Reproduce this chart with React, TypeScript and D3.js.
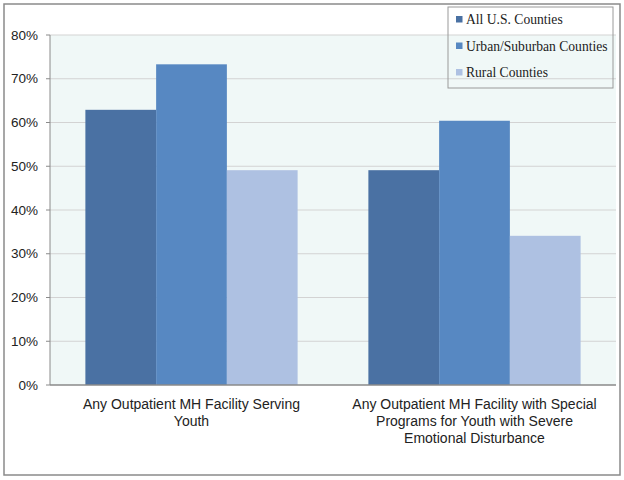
import React from "react";
import * as d3 from "d3";

const categories: string[][] = [
  ["Any Outpatient MH Facility Serving", "Youth"],
  ["Any Outpatient MH Facility with Special", "Programs for Youth with Severe", "Emotional Disturbance"],
];
const seriesNames = ["All U.S. Counties", "Urban/Suburban Counties", "Rural Counties"];
const allUS = [62.9, 49.1];
const urbanSuburban = [73.3, 60.4];
const rural = [49.1, 34.1];
const yTicks = [0, 10, 20, 30, 40, 50, 60, 70, 80];
const colors = ["#4A71A3", "#5788C2", "#AEC1E2"];

const W = 624;
const H = 480;
const plot = { left: 50, right: 616, top: 35, bottom: 385 };

export default function App() {
  const series = [allUS, urbanSuburban, rural];
  const x0 = d3
    .scaleBand<number>()
    .domain(categories.map((_, i) => i))
    .range([plot.left, plot.right])
    .paddingInner(0.25)
    .paddingOuter(0.125);
  const x1 = d3
    .scaleBand<number>()
    .domain(series.map((_, i) => i))
    .range([0, x0.bandwidth()]);
  const y = d3.scaleLinear().domain([0, 80]).range([plot.bottom, plot.top]);

  return (
    <svg
      width={W}
      height={H}
      style={{ position: "absolute", left: 0, top: 0, background: "#fff" }}
    >
      <rect x={4} y={4} width={616} height={471} fill="#fff" stroke="#8a8a8a" strokeWidth={1.5} />
      <rect
        x={plot.left}
        y={plot.top}
        width={plot.right - plot.left}
        height={plot.bottom - plot.top}
        fill="#F0F8F7"
      />
      {yTicks.map((t) => (
        <g key={t}>
          {t > 0 && (
            <line x1={plot.left} x2={plot.right} y1={y(t)} y2={y(t)} stroke="#D3D3D3" strokeWidth={1.2} />
          )}
          <line x1={plot.left - 4} x2={plot.left} y1={y(t)} y2={y(t)} stroke="#8a8a8a" strokeWidth={1} />
          <text
            x={plot.left - 12}
            y={y(t)}
            dy="0.35em"
            textAnchor="end"
            fontFamily="Liberation Sans, Arial, sans-serif"
            fontSize={13.5}
            fill="#222"
          >
            {t}%
          </text>
        </g>
      ))}
      {categories.map((_, ci) =>
        series.map((s, si) => (
          <rect
            key={`${ci}-${si}`}
            x={(x0(ci) as number) + (x1(si) as number)}
            y={y(s[ci])}
            width={x1.bandwidth()}
            height={y(0) - y(s[ci])}
            fill={colors[si]}
          />
        ))
      )}
      <line x1={plot.left} x2={plot.left} y1={plot.top} y2={plot.bottom} stroke="#8a8a8a" strokeWidth={1} />
      <line x1={plot.left} x2={plot.right} y1={plot.bottom} y2={plot.bottom} stroke="#8a8a8a" strokeWidth={1.5} />
      {categories.map((lines, ci) => (
        <text
          key={ci}
          x={(x0(ci) as number) + x0.bandwidth() / 2}
          y={408.5}
          textAnchor="middle"
          fontFamily="Liberation Sans, Arial, sans-serif"
          fontSize={14}
          fill="#222"
        >
          {lines.map((l, li) => (
            <tspan key={li} x={(x0(ci) as number) + x0.bandwidth() / 2} dy={li === 0 ? 0 : 17}>
              {l}
            </tspan>
          ))}
        </text>
      ))}
      <rect x={448} y={7} width={165} height={81} fill="none" stroke="#9a9a9a" strokeWidth={1} />
      {seriesNames.map((n, i) => (
        <g key={n}>
          <rect x={456} y={16 + i * 26.5} width={6.5} height={6.5} fill={colors[i]} />
          <text
            x={466}
            y={19.5 + i * 26.5}
            dy="0.35em"
            fontFamily="Liberation Serif, Times New Roman, serif"
            fontSize={13.6}
            fill="#222"
          >
            {n}
          </text>
        </g>
      ))}
    </svg>
  );
}
